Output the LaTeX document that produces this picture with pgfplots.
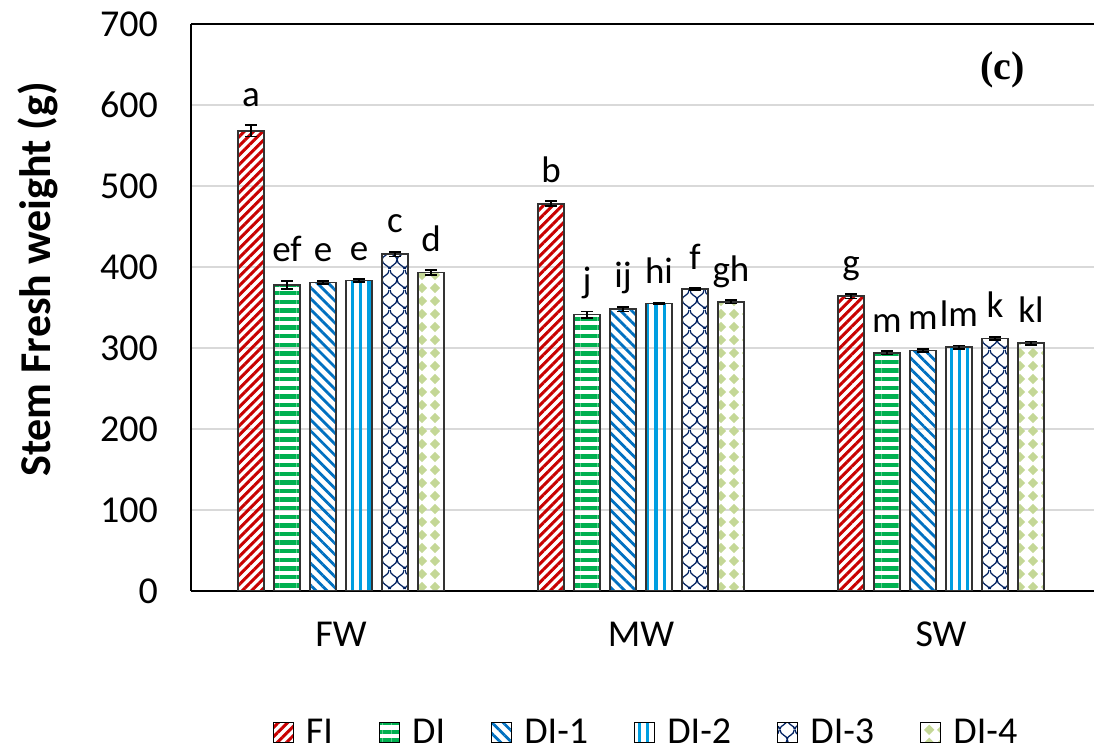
\documentclass[border=0pt]{standalone}
\usepackage{fontspec}
\setmainfont{Carlito}
\newfontfamily\serifb{Liberation Serif}
\usepackage{pgfplots}
\pgfplotsset{compat=1.18}
\usetikzlibrary{patterns.meta}

\definecolor{cFI}{RGB}{200,0,0}
\definecolor{cDI}{RGB}{0,176,80}
\definecolor{cDIa}{RGB}{0,112,192}
\definecolor{cDIb}{RGB}{0,158,224}
\definecolor{cDIc}{RGB}{0,32,96}
\definecolor{cDId}{RGB}{196,215,150}
\definecolor{gridc}{RGB}{217,217,217}

\pgfdeclarepattern{
  name=scales, type=uncolored,
  bottom left={\pgfpoint{0pt}{0pt}}, top right={\pgfpoint{7.5pt}{10pt}},
  tile size={\pgfpoint{7.5pt}{10pt}},
  code={
    \pgfsetlinewidth{0.65pt}
    \pgfpathmoveto{\pgfpoint{0pt}{10pt}}
    \pgfpathcurveto{\pgfpoint{0pt}{7pt}}{\pgfpoint{3.75pt}{7pt}}{\pgfpoint{3.75pt}{5pt}}
    \pgfpathcurveto{\pgfpoint{3.75pt}{7pt}}{\pgfpoint{7.5pt}{7pt}}{\pgfpoint{7.5pt}{10pt}}
    \pgfpathmoveto{\pgfpoint{-3.75pt}{5pt}}
    \pgfpathcurveto{\pgfpoint{-3.75pt}{2pt}}{\pgfpoint{0pt}{2pt}}{\pgfpoint{0pt}{0pt}}
    \pgfpathcurveto{\pgfpoint{0pt}{2pt}}{\pgfpoint{3.75pt}{2pt}}{\pgfpoint{3.75pt}{5pt}}
    \pgfpathcurveto{\pgfpoint{3.75pt}{2pt}}{\pgfpoint{7.5pt}{2pt}}{\pgfpoint{7.5pt}{0pt}}
    \pgfpathcurveto{\pgfpoint{7.5pt}{2pt}}{\pgfpoint{11.25pt}{2pt}}{\pgfpoint{11.25pt}{5pt}}
    \pgfusepath{stroke}
  }}

\pgfdeclarepattern{
  name=diamonds, type=uncolored,
  bottom left={\pgfpoint{0pt}{0pt}}, top right={\pgfpoint{6.5pt}{6.5pt}},
  tile size={\pgfpoint{6.5pt}{6.5pt}},
  code={
    \pgfpathmoveto{\pgfpoint{3.25pt}{0.5pt}}
    \pgfpathlineto{\pgfpoint{6.0pt}{3.25pt}}
    \pgfpathlineto{\pgfpoint{3.25pt}{6.0pt}}
    \pgfpathlineto{\pgfpoint{0.5pt}{3.25pt}}
    \pgfpathclose
    \pgfusepath{fill}
  }}

\newcommand\tickfont{\fontsize{19}{22}\selectfont}
\newcommand\letfont{\fontsize{18.5}{22}\selectfont}
\newcommand\legfont{\fontsize{19}{22}\selectfont}

\begin{document}
\begin{tikzpicture}
\begin{axis}[
  scale only axis,
  width=451.5pt, height=283.5pt,
  xmin=-0.5, xmax=2.51,
  ymin=0, ymax=700,
  ybar,
  bar width=0.0867,
  xtick={0,1,2},
  xticklabels={FW,MW,SW},
  ytick={0,100,...,700},
  major tick length=0pt,
  /pgf/number format/assume math mode=true,
  ticklabel style={font=\tickfont},
  yticklabel style={xshift=-13pt},
  xticklabel style={yshift=-12pt},
  separate axis lines,
  axis x line=box,
  axis y line=left,
  axis line style={-, black, line width=0.9pt},
  ymajorgrids,
  grid style={gridc, line width=0.8pt},
  ylabel={Stem Fresh weight (g)},
  every axis y label/.style={at={(axis description cs:-0.169,0.55)}, rotate=90, anchor=center,
    font=\bfseries\fontsize{22}{25}\selectfont},
  legend columns=-1,
  legend style={at={(axis description cs:0.505,-0.25)}, anchor=center, draw=none, fill=none,
    font=\legfont, nodes={inner ysep=1pt},
    /tikz/every even column/.append style={column sep=21pt},
    /tikz/every odd column/.append style={column sep=4pt}},
  legend image code/.code={\draw[#1, draw=black, line width=0.6pt] (0pt,-5pt) rectangle (10pt,5pt);},
  every axis plot/.append style={draw=black!80, line width=0.7pt},
  point meta=explicit symbolic,
  nodes near coords,
  visualization depends on={\thisrow{err}\as\myerr},
  nodes near coords style={font=\letfont, anchor=base, yshift=\myerr*0.405pt+9.5pt, text=black},
  error bars/y dir=both,
  error bars/y explicit,
  error bars/error bar style={black, line width=0.9pt},
  error bars/error mark options={rotate=90, mark size=3pt, line width=0.9pt, black},
]
\coordinate (bl) at (rel axis cs:0,0);
\coordinate (tr) at (rel axis cs:1,1);

\addplot[bar shift=-0.30, pattern={Lines[angle=45,distance=3.3pt,line width=1.5pt]}, pattern color=cFI]
 table[x=x, y=y, y error=err, meta=lab] {
x y err lab
0 568 7 a
1 478 3 b
2 364 3 g
};
\addplot[bar shift=-0.18, pattern={Lines[angle=0,distance=4.3pt,line width=2.2pt]}, pattern color=cDI]
 table[x=x, y=y, y error=err, meta=lab] {
x y err lab
0 378 5 ef
1 341 4 j
2 294 2 m
};
\addplot[bar shift=-0.06, pattern={Lines[angle=-45,distance=3.9pt,line width=1.4pt]}, pattern color=cDIa]
 table[x=x, y=y, y error=err, meta=lab] {
x y err lab
0 381 2 e
1 348 3 ij
2 297 2 m
};
\addplot[bar shift=0.06, pattern={Lines[angle=90,distance=4.1pt,line width=1.6pt]}, pattern color=cDIb]
 table[x=x, y=y, y error=err, meta=lab] {
x y err lab
0 383 2 e
1 355 1 hi
2 301 2 lm
};
\addplot[bar shift=0.18, pattern=scales, pattern color=cDIc]
 table[x=x, y=y, y error=err, meta=lab] {
x y err lab
0 416 3 c
1 373 1 f
2 312 2 k
};
\addplot[bar shift=0.30, pattern=diamonds, pattern color=cDId]
 table[x=x, y=y, y error=err, meta=lab] {
x y err lab
0 393 3 d
1 357 2 gh
2 306 2 kl
};
\legend{FI,DI,DI-1,DI-2,DI-3,DI-4}
\node[font=\serifb\bfseries\fontsize{20}{24}\selectfont] at (axis description cs:0.899,0.919) {(c)};
\end{axis}
\pgfresetboundingbox
\path[use as bounding box] ([xshift=-95.5pt,yshift=-79pt]bl) rectangle ([yshift=12pt]tr);
\end{tikzpicture}
\end{document}
